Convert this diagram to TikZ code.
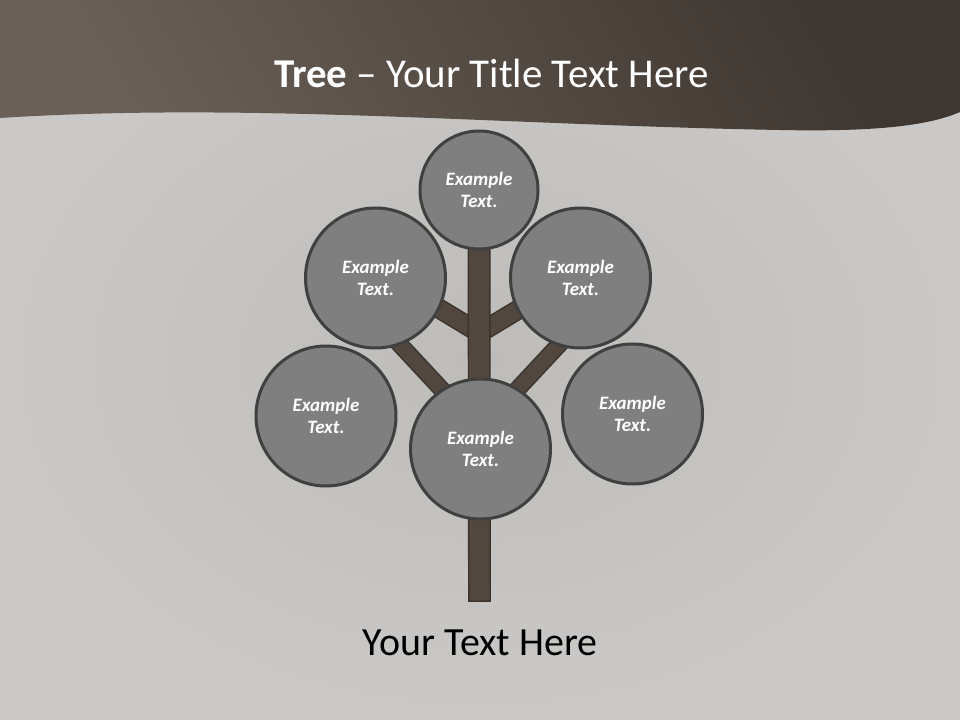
\documentclass[tikz,border=0pt]{standalone}
\usepackage{fontspec}
\setmainfont{Carlito}
\definecolor{paper}{HTML}{CAC9C7}
\definecolor{paperdark}{HTML}{BEBCB9}
\definecolor{banddark}{HTML}{3E3630}
\definecolor{bandlight}{HTML}{6A6057}
\definecolor{leafgrey}{HTML}{7F7F7F}
\definecolor{leafedge}{HTML}{404040}
\definecolor{bark}{HTML}{51473E}
\definecolor{barkedge}{HTML}{3A332D}

\begin{document}
\begin{tikzpicture}[x=0.75pt,y=-0.75pt]
        \tikzset{leaf/.style = {shape=circle,draw=leafedge,fill=leafgrey,line width=2.25pt,minimum size=105pt,inner sep=0pt,align=center,text=white,font=\fontsize{14.2}{17}\selectfont\bfseries\itshape}};
        \tikzset{limb/.style = {draw=barkedge,line width=1.1pt,double=bark,double distance=12.8pt}};
        \useasboundingbox (0,0) rectangle (960,720);
        % background and top band
        \shade[inner color=paperdark,outer color=paper] (0,0) rectangle (960,720);
        \shade[top color=banddark,bottom color=bandlight,shading angle=-60] (0,0) -- (960,0) -- (960,112) .. controls (930,125) and (880,132) .. (780,130) .. controls (500,125) and (250,102) .. (0,118) -- cycle;
        % centres and forks
        \coordinate (c1) at (479,190);
        \coordinate (c2) at (375.5,278);
        \coordinate (c3) at (580.5,278);
        \coordinate (c4) at (326,416);
        \coordinate (c5) at (632.5,414);
        \coordinate (c6) at (480.5,449);
        \coordinate (hi) at (479.5,333);
        \coordinate (lo) at (479.5,430);
        \coordinate (hl) at (400,285);
        \coordinate (hr) at (559,285);
        \coordinate (ll) at (391,335);
        \coordinate (lr) at (568,335);
        \coordinate (root) at (479.5,590.5);
        % branches and trunk
        \draw[limb] (hi) -- (hl);
        \draw[limb] (hi) -- (hr);
        \draw[limb,double distance=10.9pt] (lo) -- (ll);
        \draw[limb,double distance=10.9pt] (lo) -- (lr);
        \draw[limb,double distance=15pt,line cap=rect] (c1) -- (root);
        % leaves
        \node[leaf,minimum size=88.5pt] (top) at (c1) {Example\\Text.};
        \node[leaf] (upleft) at (c2) {Example\\Text.};
        \node[leaf] (upright) at (c3) {Example\\Text.};
        \node[leaf] (lowleft) at (c4) {Example\\Text.};
        \node[leaf] (lowright) at (c5) {Example\\Text.};
        \node[leaf] (mid) at (c6) {Example\\Text.};
        % texts
        \node[anchor=base,text=white,font=\fontsize{30.7}{36}\selectfont] (title) at (491.5,88) {\textbf{Tree} – Your Title Text Here};
        \node[anchor=base,font=\fontsize{30}{36}\selectfont] (caption) at (480,655) {Your Text Here};
    \end{tikzpicture}
\end{document}
